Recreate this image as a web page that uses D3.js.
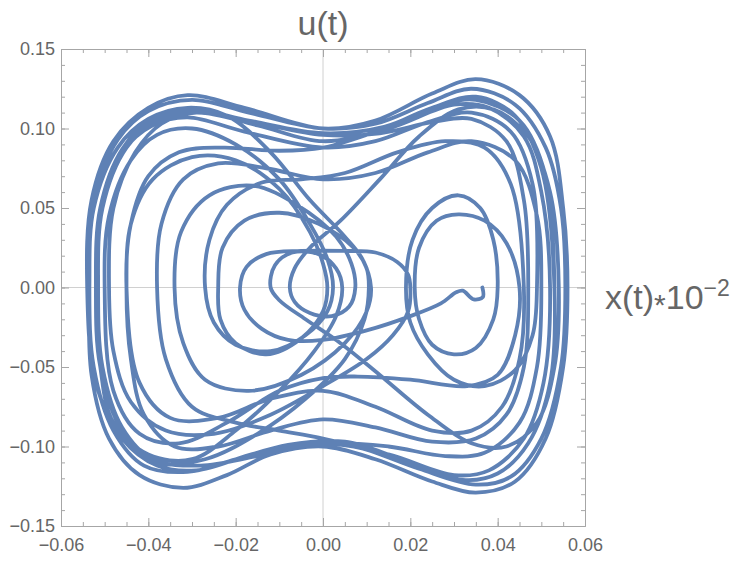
<!DOCTYPE html>
<html>
<head>
<meta charset="utf-8">
<script src="https://cdn.jsdelivr.net/npm/d3@7"></script>
<style>
  body { margin: 0; background: #fff; }
  text { font-family: "Liberation Sans", Arial, sans-serif; }
</style>
</head>
<body>
<div id="chart"></div>
<script>
// tick labels
var xTicks = [-0.06, -0.04, -0.02, 0.00, 0.02, 0.04, 0.06];
var yTicks = [-0.15, -0.10, -0.05, 0.00, 0.05, 0.10, 0.15];

// trajectory, one half swing per array: [x, u]
var s00 = [[0.0365,0],[0.0366,-0.006],[0.0345,-0.0075],[0.032,-0.002],[0.0305,-0.003],[0.027,-0.010],[0.020,-0.018],[0.010,-0.027],[0.0,-0.033],[-0.008,-0.033],[-0.014,-0.026],[-0.018,-0.014],[-0.019,0]];
var s01 = [[-0.019,0],[-0.0175,0.013],[-0.013,0.021],[-0.005,0.023],[0.005,0.023],[0.012,0.022],[0.017,0.016],[0.0195,0.008],[0.020,0]];
var s02 = [[0.020,0],[0.0195,-0.015],[0.016,-0.030],[0.010,-0.045],[0,-0.062],[-0.012,-0.080],[-0.025,-0.092],[-0.036,-0.090],[-0.044,-0.072],[-0.048,-0.040],[-0.049,0]];
var s03 = [[-0.049,0],[-0.048,0.05],[-0.043,0.085],[-0.037,0.103],[-0.029,0.110],[-0.015,0.102],[0,0.092],[0.015,0.100],[0.030,0.115],[0.038,0.113],[0.046,0.095],[0.050,0.06],[0.052,0]];
var s04 = [[0.052,0],[0.0505,-0.06],[0.046,-0.095],[0.038,-0.115],[0.030,-0.118],[0.015,-0.105],[0,-0.098],[-0.015,-0.104],[-0.029,-0.115],[-0.038,-0.112],[-0.046,-0.095],[-0.052,-0.06],[-0.054,0]];
var s05 = [[-0.054,0],[-0.053,0.055],[-0.048,0.092],[-0.040,0.113],[-0.031,0.121],[-0.018,0.113],[0,0.100],[0.012,0.105],[0.025,0.122],[0.035,0.131],[0.045,0.121],[0.052,0.095],[0.055,0.05],[0.056,0]];
var s06 = [[0.056,0],[0.055,-0.05],[0.051,-0.095],[0.044,-0.122],[0.035,-0.129],[0.025,-0.122],[0.012,-0.108],[0,-0.100],[-0.012,-0.105],[-0.022,-0.118],[-0.032,-0.126],[-0.042,-0.118],[-0.049,-0.095],[-0.053,-0.055],[-0.0535,0]];
var s07 = [[-0.0535,0],[-0.0525,0.05],[-0.047,0.088],[-0.040,0.106],[-0.031,0.113],[-0.022,0.108],[-0.012,0.085],[-0.003,0.055],[0.005,0.032],[0.009,0.018],[0.011,0]];
var s08 = [[0.011,0],[0.010,-0.015],[0.005,-0.035],[-0.005,-0.055],[-0.017,-0.065],[-0.027,-0.058],[-0.032,-0.035],[-0.034,0]];
var s09 = [[-0.034,0],[-0.0325,0.035],[-0.026,0.058],[-0.016,0.064],[-0.006,0.052],[0.003,0.032],[0.0065,0.015],[0.0074,0]];
var s10 = [[0.0074,0],[0.006,-0.012],[0.002,-0.018],[-0.003,-0.016],[-0.0065,-0.009],[-0.0076,0]];
var s11 = [[-0.0076,0],[-0.0065,0.012],[-0.003,0.025],[0.004,0.042],[0.013,0.068],[0.022,0.095],[0.031,0.112],[0.039,0.112],[0.047,0.095],[0.052,0.06],[0.054,0]];
var s12 = [[0.054,0],[0.053,-0.05],[0.049,-0.085],[0.042,-0.100],[0.034,-0.098],[0.024,-0.080],[0.013,-0.055],[0.004,-0.035],[-0.004,-0.020],[-0.010,-0.008],[-0.012,0]];
var s13 = [[-0.012,0],[-0.011,0.014],[-0.007,0.022],[-0.001,0.021],[0.003,0.012],[0.0044,0]];
var s14 = [[0.0044,0],[0.003,-0.018],[-0.002,-0.040],[-0.010,-0.065],[-0.020,-0.090],[-0.030,-0.108],[-0.040,-0.105],[-0.048,-0.085],[-0.051,-0.05],[-0.052,0]];
var s15 = [[-0.052,0],[-0.051,0.05],[-0.046,0.085],[-0.039,0.102],[-0.031,0.107],[-0.018,0.098],[0,0.088],[0.012,0.092],[0.024,0.104],[0.034,0.110],[0.043,0.098],[0.048,0.065],[0.049,0]];
var s16 = [[0.049,0],[0.048,-0.03],[0.044,-0.052],[0.037,-0.062],[0.030,-0.058],[0.024,-0.042],[0.020,-0.022],[0.019,0]];
var s17 = [[0.019,0],[0.0205,0.03],[0.025,0.05],[0.031,0.058],[0.036,0.05],[0.039,0.03],[0.040,0]];
var s18 = [[0.040,0],[0.039,-0.02],[0.035,-0.038],[0.030,-0.042],[0.025,-0.036],[0.022,-0.02],[0.021,0]];
var s19 = [[0.021,0],[0.022,0.025],[0.026,0.042],[0.031,0.046],[0.037,0.042],[0.042,0.028],[0.045,0]];
var s20 = [[0.045,0],[0.044,-0.03],[0.040,-0.055],[0.033,-0.062],[0.020,-0.058],[0.008,-0.056],[0,-0.057],[-0.010,-0.065],[-0.022,-0.085],[-0.033,-0.098],[-0.042,-0.092],[-0.048,-0.065],[-0.050,0]];
var s21 = [[-0.050,0],[-0.049,0.045],[-0.044,0.08],[-0.038,0.096],[-0.030,0.100],[-0.020,0.090],[-0.010,0.068],[-0.003,0.040],[0.001,0.018],[0.0023,0]];
var s22 = [[0.0023,0],[0.001,-0.015],[-0.004,-0.030],[-0.012,-0.040],[-0.020,-0.036],[-0.025,-0.022],[-0.027,0]];
var s23 = [[-0.027,0],[-0.026,0.03],[-0.022,0.052],[-0.014,0.066],[-0.005,0.068],[0.005,0.072],[0.017,0.085],[0.028,0.092],[0.037,0.088],[0.043,0.065],[0.046,0]];
var s24 = [[0.046,0],[0.045,-0.045],[0.041,-0.075],[0.034,-0.090],[0.025,-0.090],[0.012,-0.075],[0,-0.065],[-0.012,-0.070],[-0.024,-0.082],[-0.035,-0.082],[-0.042,-0.060],[-0.045,0]];
var s25 = [[-0.045,0],[-0.044,0.04],[-0.040,0.07],[-0.033,0.085],[-0.023,0.088],[-0.010,0.086],[0,0.088],[0.012,0.098],[0.025,0.113],[0.035,0.120],[0.044,0.108],[0.050,0.075],[0.053,0]];
var s26 = [[0.053,0],[0.052,-0.06],[0.047,-0.098],[0.040,-0.117],[0.032,-0.121],[0.018,-0.108],[0.005,-0.097],[-0.008,-0.099],[-0.020,-0.108],[-0.031,-0.116],[-0.041,-0.112],[-0.048,-0.09],[-0.0525,-0.05],[-0.0535,0]];
var s27 = [[-0.0535,0],[-0.0525,0.055],[-0.047,0.093],[-0.040,0.111],[-0.030,0.118],[-0.017,0.110],[0,0.100],[0.012,0.103],[0.024,0.116],[0.034,0.125],[0.044,0.115],[0.051,0.088],[0.0545,0.05],[0.0555,0]];
var s28 = [[0.0555,0],[0.0545,-0.05],[0.050,-0.095],[0.043,-0.119],[0.035,-0.124],[0.022,-0.114],[0.010,-0.102],[0,-0.095],[-0.010,-0.090],[-0.020,-0.085],[-0.030,-0.075],[-0.036,-0.045],[-0.038,0]];
var s29 = [[-0.038,0],[-0.037,0.04],[-0.032,0.068],[-0.024,0.078],[-0.013,0.075],[0,0.068],[0.012,0.072],[0.024,0.085],[0.034,0.092],[0.044,0.08],[0.049,0.045],[0.050,0]];
var s30 = [[0.050,0],[0.049,-0.05],[0.045,-0.085],[0.037,-0.104],[0.028,-0.106],[0.015,-0.100],[0,-0.098],[-0.015,-0.106],[-0.028,-0.112],[-0.039,-0.108],[-0.046,-0.088],[-0.0505,-0.05],[-0.0515,0]];
var s31 = [[-0.0515,0],[-0.0505,0.05],[-0.045,0.088],[-0.038,0.105],[-0.029,0.110],[-0.016,0.104],[0,0.096],[0.013,0.097],[0.025,0.104],[0.034,0.106],[0.042,0.092],[0.046,0.055],[0.047,0]];
var s32 = [[0.047,0],[0.046,-0.05],[0.042,-0.08],[0.035,-0.095],[0.025,-0.097],[0.012,-0.088],[0,-0.083],[-0.012,-0.090],[-0.024,-0.100],[-0.034,-0.100],[-0.041,-0.080],[-0.044,-0.045],[-0.045,0]];
var s33 = [[-0.045,0],[-0.044,0.04],[-0.039,0.068],[-0.030,0.082],[-0.020,0.080],[-0.010,0.062],[-0.003,0.035],[0.0,0.015],[0.001,0]];
var s34 = [[0.001,0],[0.0,-0.015],[-0.005,-0.032],[-0.013,-0.042],[-0.020,-0.035],[-0.0235,-0.02],[-0.024,0]];
var s35 = [[-0.024,0],[-0.023,0.025],[-0.018,0.042],[-0.010,0.047],[-0.001,0.040],[0.007,0.025],[0.010,0.012],[0.0105,0]];
var s36 = [[0.0105,0],[0.0095,-0.02],[0.005,-0.045],[-0.004,-0.07],[-0.015,-0.092],[-0.027,-0.108],[-0.038,-0.11],[-0.046,-0.09],[-0.051,-0.05],[-0.052,0]];
var s37 = [[-0.052,0],[-0.051,0.05],[-0.046,0.087],[-0.039,0.106],[-0.030,0.112],[-0.017,0.105],[0,0.097],[0.014,0.101],[0.026,0.114],[0.035,0.118],[0.045,0.105],[0.051,0.07],[0.053,0]];

var swings = [s00, s01, s02, s03, s04, s05, s06, s07, s08, s09, s10, s11, s12, s13, s14, s15, s16, s17, s18,
  s19, s20, s21, s22, s23, s24, s25, s26, s27, s28, s29, s30, s31, s32, s33, s34, s35, s36, s37];

var svgWidth = 750;
var svgHeight = 563;
var plot = { left: 61, right: 585, top: 49, bottom: 526 };
var grey = "#666";
var frameColor = "#a6a6a6";

var svg = d3.select("#chart")
  .append("svg")
  .attr("width", svgWidth)
  .attr("height", svgHeight);

var xScale = d3.scaleLinear().domain([-0.06, 0.06]).range([plot.left, plot.right]);
var yScale = d3.scaleLinear().domain([-0.15, 0.15]).range([plot.bottom, plot.top]);

// zero lines
svg.append("line")
  .attr("x1", xScale(0)).attr("x2", xScale(0))
  .attr("y1", plot.top).attr("y2", plot.bottom)
  .attr("stroke", "#d0d0d0").attr("stroke-width", 1);
svg.append("line")
  .attr("x1", plot.left).attr("x2", plot.right)
  .attr("y1", yScale(0)).attr("y2", yScale(0))
  .attr("stroke", "#d0d0d0").attr("stroke-width", 1);

// trajectory
var points = [];
swings.forEach(function (s, i) {
  s.forEach(function (p, j) {
    if (i > 0 && j === 0) return;
    points.push(p);
  });
});

var line = d3.line()
  .x(d => xScale(d[0]))
  .y(d => yScale(d[1]))
  .curve(d3.curveCatmullRom.alpha(0.5));

svg.append("path")
  .datum(points)
  .attr("d", line)
  .attr("fill", "none")
  .attr("stroke", "#5e81b5")
  .attr("stroke-width", 3.8)
  .attr("stroke-linejoin", "round")
  .attr("stroke-linecap", "round");

// frame with inward ticks on all sides
var fmt = d => d3.format(".2f")(d).replace("-", "\u2212");
var xMinor = d3.range(-0.06, 0.0601, 0.005);
var yMinor = d3.range(-0.15, 0.1501, 0.01);

function frameAxis(axis, transform) {
  var g = svg.append("g").attr("transform", transform).call(axis);
  g.select(".domain").attr("stroke", frameColor);
  g.selectAll(".tick line").attr("stroke", frameColor);
  g.selectAll(".tick text").attr("fill", grey).style("font-size", "18px")
    .style("font-family", "'Liberation Sans', Arial, sans-serif");
  return g;
}

// minor ticks first
frameAxis(d3.axisBottom(xScale).tickValues(xMinor).tickSize(-4).tickSizeOuter(0).tickFormat(""), `translate(0,${plot.bottom})`);
frameAxis(d3.axisTop(xScale).tickValues(xMinor).tickSize(-4).tickSizeOuter(0).tickFormat(""), `translate(0,${plot.top})`);
frameAxis(d3.axisLeft(yScale).tickValues(yMinor).tickSize(-4).tickSizeOuter(0).tickFormat(""), `translate(${plot.left},0)`);
frameAxis(d3.axisRight(yScale).tickValues(yMinor).tickSize(-4).tickSizeOuter(0).tickFormat(""), `translate(${plot.right},0)`);

// major ticks with labels
frameAxis(d3.axisBottom(xScale).tickValues(xTicks).tickSize(-8).tickSizeOuter(0).tickPadding(12).tickFormat(fmt), `translate(0,${plot.bottom})`);
frameAxis(d3.axisTop(xScale).tickValues(xTicks).tickSize(-8).tickSizeOuter(0).tickFormat(""), `translate(0,${plot.top})`);
frameAxis(d3.axisLeft(yScale).tickValues(yTicks).tickSize(-8).tickSizeOuter(0).tickPadding(6).tickFormat(fmt), `translate(${plot.left},0)`);
frameAxis(d3.axisRight(yScale).tickValues(yTicks).tickSize(-8).tickSizeOuter(0).tickFormat(""), `translate(${plot.right},0)`);

// axis labels
svg.append("text")
  .attr("x", 323)
  .attr("y", 35)
  .attr("text-anchor", "middle")
  .attr("fill", grey)
  .style("font-size", "34px")
  .text("u(t)");

var xl = svg.append("text")
  .attr("x", 605)
  .attr("y", 309)
  .attr("fill", grey)
  .style("font-size", "34px");
xl.append("tspan").text("x(t)");
xl.append("tspan").text("*").style("font-size", "30px").attr("dy", 6);
xl.append("tspan").text("10").attr("dy", -6);
xl.append("tspan").attr("dy", -13).style("font-size", "23px").text("\u22122");
</script>
</body>
</html>
